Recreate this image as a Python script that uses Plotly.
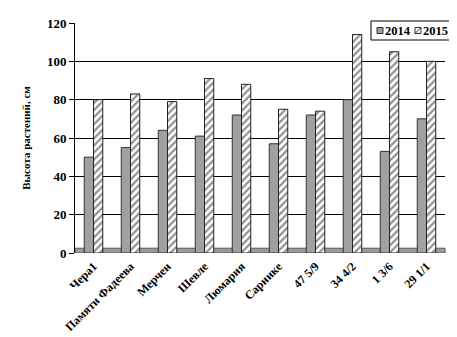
import plotly.graph_objects as go

categories = ["Чера1", "Памяти Фадеева", "Мерчен", "Шевле", "Люмария", "Сарнике",
              "47 5/9", "34 4/2", "1 3/6", "29 1/1"]
v2014 = [50, 55, 64, 61, 72, 57, 72, 80, 53, 70]
v2015 = [80, 83, 79, 91, 88, 75, 74, 114, 105, 100]
series_names = ["2014", "2015"]
yticks = [0, 20, 40, 60, 80, 100, 120]

font_main = "Liberation Serif, Times New Roman, serif"

fig = go.Figure()
fig.add_trace(go.Bar(
    x=categories, y=v2014, name=series_names[0], showlegend=False,
    marker=dict(color="#a0a0a0", line=dict(color="#333333", width=1)),
))
fig.add_trace(go.Bar(
    x=categories, y=v2015, name=series_names[1], showlegend=False,
    marker=dict(color="white", line=dict(color="#222222", width=1),
                pattern=dict(shape="/", fgcolor="#222222", bgcolor="white", size=5, solidity=0.45)),
))

# floor
fig.add_shape(type="rect", xref="paper", yref="y", x0=0.0, x1=1.0, y0=0, y1=2.5,
              fillcolor="#9a9a9a", line=dict(color="#555555", width=1), layer="below")

# manual legend (paper coords)
W, H = 457, 337
ml, mr, mt, mb = 67, 20, 15, 92
pw, ph = W - ml - mr, H - mt - mb
def px(x):
    return (x - ml) / pw
def py(y):
    return (H - mb - y) / ph

fig.add_shape(type="rect", xref="paper", yref="paper", x0=px(363), x1=px(444), y0=py(32), y1=py(13),
              fillcolor="white", line=dict(color="black", width=1), layer="above")
fig.add_shape(type="rect", xref="paper", yref="paper", x0=px(369), x1=px(375), y0=py(25.5), y1=py(19.5),
              fillcolor="#a0a0a0", line=dict(color="#333333", width=1), layer="above")
fig.add_shape(type="rect", xref="paper", yref="paper", x0=px(407), x1=px(413), y0=py(25.5), y1=py(19.5),
              fillcolor="white", line=dict(color="#333333", width=1), layer="above")
fig.add_shape(type="line", xref="paper", yref="paper", x0=px(407), x1=px(413), y0=py(25.5), y1=py(19.5),
              line=dict(color="#333333", width=1), layer="above")
fig.add_annotation(text="<b>" + series_names[0] + "</b>", xref="paper", yref="paper",
                   x=px(375), y=py(22.5), xanchor="left", yanchor="middle", showarrow=False,
                   font=dict(family=font_main, size=12.5, color="black"))
fig.add_annotation(text="<b>" + series_names[1] + "</b>", xref="paper", yref="paper",
                   x=px(413), y=py(22.5), xanchor="left", yanchor="middle", showarrow=False,
                   font=dict(family=font_main, size=12.5, color="black"))

fig.update_layout(
    width=W, height=H,
    margin=dict(l=ml, r=mr, t=mt, b=mb),
    paper_bgcolor="white", plot_bgcolor="white",
    barmode="group", bargap=0.5, bargroupgap=0.0,
    font=dict(family=font_main, size=11, color="black"),
    showlegend=False,
    xaxis=dict(tickangle=-45, showgrid=False, showline=False, ticks="", automargin=False,
               ticklabelstandoff=3,
               tickfont=dict(family=font_main, size=12, color="black", weight="bold")),
    yaxis=dict(range=[0, 120], tickvals=yticks, showgrid=True, gridcolor="black", gridwidth=1,
               showline=True, linecolor="black", ticks="outside", ticklen=5, tickcolor="black",
               zeroline=False, automargin=False,
               tickfont=dict(family=font_main, size=13, color="black", weight="bold"),
               title=dict(text="Высота растений, см",
                          font=dict(family=font_main, size=11, color="black", weight="bold"),
                          standoff=14)),
)

fig.write_html("out.html")
